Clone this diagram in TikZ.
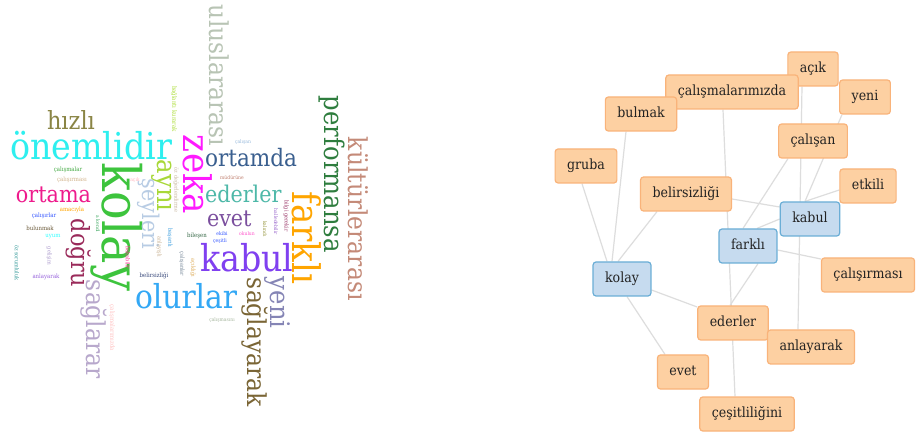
\documentclass[tikz,border=0pt]{standalone}
\usepackage{fontspec}
\setmainfont{DejaVu Serif}
\usepackage{graphicx}
\pgfdeclarelayer{back}
\pgfdeclarelayer{edges}
\pgfsetlayers{back,edges,main}
\definecolor{cHizli}{HTML}{8A8545}
\definecolor{cOnem}{HTML}{2EEFEF}
\definecolor{cOrtama}{HTML}{EE1A8C}
\definecolor{cKolay}{HTML}{3DC43D}
\definecolor{cDogru}{HTML}{9A2A5A}
\definecolor{cSaglarar}{HTML}{B8A8CC}
\definecolor{cAyni}{HTML}{A8D838}
\definecolor{cSeyleri}{HTML}{B8CCE4}
\definecolor{cZeka}{HTML}{FF1AFF}
\definecolor{cUlus}{HTML}{B8C4B4}
\definecolor{cOrtamda}{HTML}{3A5F8F}
\definecolor{cEderler}{HTML}{4DB8A8}
\definecolor{cEvet}{HTML}{7B4F9E}
\definecolor{cKabul}{HTML}{8040F0}
\definecolor{cOlurlar}{HTML}{33A8F5}
\definecolor{cFarkli}{HTML}{FFA500}
\definecolor{cYeni}{HTML}{8585B5}
\definecolor{cSaglayarak}{HTML}{7A6535}
\definecolor{cPerf}{HTML}{2E7D3E}
\definecolor{cKultur}{HTML}{C48A78}
\definecolor{sGreen}{HTML}{44AA44}
\definecolor{sTan}{HTML}{D2B48C}
\definecolor{sPink}{HTML}{FFB6C1}
\definecolor{sOrange}{HTML}{FFA500}
\definecolor{sBlue}{HTML}{3355FF}
\definecolor{sBrown}{HTML}{6B5A3A}
\definecolor{sCyan}{HTML}{33FFFF}
\definecolor{sPurple}{HTML}{9966DD}
\definecolor{sNavy}{HTML}{334477}
\definecolor{sLBlue}{HTML}{99BBDD}
\definecolor{sRose}{HTML}{C08070}
\definecolor{sDGreen}{HTML}{336644}
\definecolor{sHPink}{HTML}{FF55CC}
\definecolor{sGrayG}{HTML}{A8B8A0}
\definecolor{sYG}{HTML}{AADD33}
\definecolor{sTanG}{HTML}{C8B8A0}
\definecolor{sGreen2}{HTML}{44AA66}
\definecolor{sTeal}{HTML}{339999}
\definecolor{sLav}{HTML}{AA99CC}
\definecolor{sDPink}{HTML}{FF3399}
\definecolor{sLPink}{HTML}{FFC0C0}
\definecolor{sMBlue}{HTML}{3399DD}
\definecolor{sTan2}{HTML}{C8B090}
\definecolor{sSlate}{HTML}{778899}
\definecolor{sGold}{HTML}{DDAA55}
\definecolor{sMaroon}{HTML}{993366}
\definecolor{sPurp2}{HTML}{9966CC}
\definecolor{sOlive}{HTML}{999944}
\definecolor{nOrange}{HTML}{FDD0A2}
\definecolor{nOrangeB}{HTML}{F9B37A}
\definecolor{nBlue}{HTML}{C6DBEF}
\definecolor{nBlueB}{HTML}{6BAED6}
\definecolor{nText}{HTML}{222222}
\definecolor{eGray}{HTML}{DDDDDD}
\newcommand\wcH[5]{\node[wd,anchor=base west,text=#1] (#2) at (#3) {\fontsize{#4}{#4}\selectfont\scalebox{0.9}[1]{#5}};}
\newcommand\wcV[5]{\node[wd,anchor=base west,rotate=-90,text=#1] (#2) at (#3) {\fontsize{#4}{#4}\selectfont\scalebox{0.9}[1]{#5}};}
\newcommand\wcSH[5]{\node[wd,text=#1] (#2) at (#3) {\fontsize{#4}{#4}\selectfont\scalebox{0.9}[1]{#5}};}
\newcommand\wcSV[5]{\node[wd,rotate=-90,text=#1] (#2) at (#3) {\fontsize{#4}{#4}\selectfont\scalebox{0.9}[1]{#5}};}
\begin{document}
\begin{tikzpicture}[x=1pt,y=-1pt,
  wd/.style={inner sep=0pt,outer sep=0pt},
  onode/.style={draw=nOrangeB,fill=nOrange,rounded corners=3pt,line width=1.2pt,
    inner xsep=12pt,inner ysep=10pt,text height=10.5pt,text depth=3.5pt,text=nText,
    font=\fontsize{14}{16}\selectfont},
  bnode/.style={onode,draw=nBlueB,fill=nBlue},
  link/.style={draw=eGray,line width=1.2pt}]
\begin{pgfonlayer}{back}
\fill[white] (0,0) rectangle (916,438);
\end{pgfonlayer}
\useasboundingbox (0,0) rectangle (916,438);
% ---------- word cloud: large words ----------
\wcH{cHizli}{w1}{47,130}{25}{hızlı}
\wcH{cOnem}{w2}{10,160}{37}{önemlidir}
\wcH{cOrtama}{w3}{16,203}{23}{ortama}
\wcH{cOrtamda}{w4}{205,167}{24}{ortamda}
\wcH{cEderler}{w5}{205,203}{23}{ederler}
\wcH{cEvet}{w6}{207,227}{23}{evet}
\wcH{cKabul}{w7}{200,272}{37}{kabul}
\wcH{cOlurlar}{w8}{135,309}{33}{olurlar}
\wcV{cUlus}{w9}{209,5}{26}{uluslararası}
\wcV{cZeka}{w10}{183,135}{38}{zeka}
\wcV{cKolay}{w11}{102,163}{53}{kolay}
\wcV{cAyni}{w12}{157,160}{27}{aynı}
\wcV{cSeyleri}{w13}{142,179}{23}{şeyleri}
\wcV{cDogru}{w14}{71,219}{25}{doğru}
\wcV{cSaglarar}{w15}{86,280}{26}{sağlarar}
\wcV{cFarkli}{w16}{292,192}{38}{farklı}
\wcV{cYeni}{w17}{270,277}{27}{yeni}
\wcV{cSaglayarak}{w18}{247,278}{26}{sağlayarak}
\wcV{cPerf}{w19}{324,96}{27}{performansa}
\wcV{cKultur}{w20}{348,137}{26}{kültürlerarası}
% ---------- word cloud: small words ----------
\wcSH{sGreen}{s1}{68,170}{6}{çalışmalar}
\wcSH{sTan}{s2}{72,180}{6}{çalışırması}
\wcSH{sPink}{s3}{135,180}{5}{açık}
\wcSH{sOrange}{s4}{72,210}{6}{amacıyla}
\wcSH{sBlue}{s5}{44,216}{6}{çalışırlar}
\wcSH{sBrown}{s6}{40,228}{6}{bulunmak}
\wcSH{sCyan}{s7}{53,237}{6}{uyum}
\wcSH{sPurple}{s8}{46,277}{6}{anlayarak}
\wcSH{sNavy}{s9}{154,276}{6}{belirsizliği}
\wcSH{sLBlue}{s10}{243,142}{5}{çalışan}
\wcSH{sRose}{s11}{232,178}{5}{müdürüne}
\wcSH{sDGreen}{s12}{197,236}{6}{bileşen}
\wcSH{sBlue}{s13}{222,234}{5}{ekibi}
\wcSH{sHPink}{s14}{247,234}{5}{okulun}
\wcSH{sBlue}{s15}{220,241}{5}{çeşitli}
\wcSH{sGrayG}{s16}{222,320}{5}{çalışmasını}
\wcSV{sYG}{s17}{174,109}{6}{bağlantı kurarak}
\wcSV{sTanG}{s18}{176,190}{5.5}{öz değerlendirme}
\wcSV{sGreen2}{s19}{98,224}{5}{a kendi}
\wcSV{sTeal}{s20}{17,263}{5.5}{öz sorumluluk}
\wcSV{sLav}{s21}{49,256}{5.5}{gelişim}
\wcSV{sDPink}{s22}{128,258}{5.5}{bakabilir}
\wcSV{sLPink}{s23}{112,328}{6}{çalışmalarımızda}
\wcSV{sMBlue}{s24}{170,238}{5.5}{başarılı}
\wcSV{sTan2}{s25}{159,247}{5.5}{anlayışlı}
\wcSV{sSlate}{s26}{182,264}{5.5}{çalışanlar}
\wcSV{sGold}{s27}{193,268}{5.5}{açıklığı}
\wcSV{sMaroon}{s28}{286,216}{5.5}{bilgi gerekir}
\wcSV{sPurp2}{s29}{276,222}{5}{halledebilir}
\wcSV{sOlive}{s30}{265,229}{5}{kalındı}
% ---------- network ----------
\node[onode] (acik) at (813,69) {\scalebox{0.9}[1]{açık}};
\node[onode] (calism) at (732,92) {\scalebox{0.9}[1]{çalışmalarımızda}};
\node[onode] (yeni) at (865,97) {\scalebox{0.9}[1]{yeni}};
\node[onode] (bulmak) at (641,114) {\scalebox{0.9}[1]{bulmak}};
\node[onode] (calisan) at (813,141) {\scalebox{0.9}[1]{çalışan}};
\node[onode] (gruba) at (586,166) {\scalebox{0.9}[1]{gruba}};
\node[onode] (belirs) at (686,194) {\scalebox{0.9}[1]{belirsizliği}};
\node[onode] (etkili) at (868,186) {\scalebox{0.9}[1]{etkili}};
\node[bnode] (kabul) at (810,219) {\scalebox{0.9}[1]{kabul}};
\node[bnode] (farkli) at (748,246) {\scalebox{0.9}[1]{farklı}};
\node[bnode] (kolay) at (622,279) {\scalebox{0.9}[1]{kolay}};
\node[onode] (calistir) at (868,275) {\scalebox{0.9}[1]{çalışırması}};
\node[onode] (ederler) at (733,323) {\scalebox{0.9}[1]{ederler}};
\node[onode] (anlayarak) at (811,347) {\scalebox{0.9}[1]{anlayarak}};
\node[onode] (evet) at (683,372) {\scalebox{0.9}[1]{evet}};
\node[onode] (cesit) at (747,414) {\scalebox{0.9}[1]{çeşitliliğini}};
\begin{pgfonlayer}{edges}
\draw[link] ([xshift=-15pt]bulmak.south) -- ([xshift=-10pt]kolay.north);
\draw[link] ([xshift=-4pt]gruba.south) -- ([xshift=-15pt]kolay.north);
\draw[link] ([xshift=-29pt]belirs.south) -- ([xshift=-4pt]kolay.north);
\draw[link] ([xshift=-9pt]calism.south) -- ([xshift=-12pt]cesit.north);
\draw[link] ([xshift=-25pt]calisan.south) -- ([xshift=-5pt]farkli.north);
\draw[link] ([xshift=-23pt]yeni.south) -- ([xshift=-5pt]kabul.north);
\draw[link] ([xshift=-11pt]acik.south) -- ([xshift=-13pt]anlayarak.north);
\draw[link] ([yshift=-4pt]etkili.west) -- ([xshift=-5pt]kabul.north);
\draw[link] ([yshift=-5pt]belirs.east) -- ([yshift=12pt]kabul.west);
\draw[link] (kabul.west) -- ([xshift=9pt]farkli.north);
\draw[link] ([yshift=-4pt]farkli.east) -- ([yshift=16pt]calistir.west);
\draw[link] ([xshift=10pt]farkli.south) -- ([xshift=-3pt]ederler.north);
\draw[link] ([yshift=-11pt]kolay.east) -- ([yshift=16pt]ederler.west);
\draw[link] ([xshift=5pt]kolay.south) -- ([xshift=-18pt]evet.north);
\end{pgfonlayer}
\end{tikzpicture}
\end{document}
